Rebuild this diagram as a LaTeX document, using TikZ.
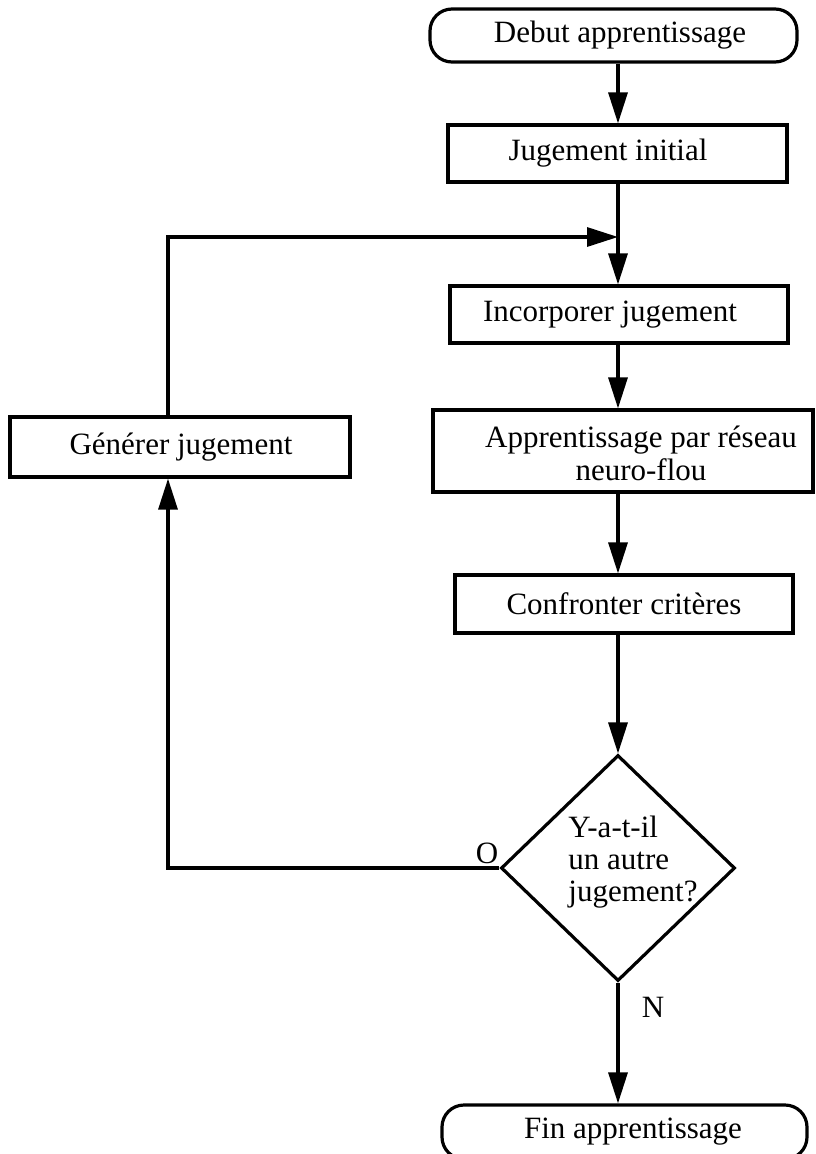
\documentclass[tikz,border=0pt]{standalone}
\usepackage{fontspec}
\setmainfont{Liberation Serif}
\usetikzlibrary{arrows.meta,shapes.geometric}
\begin{document}
\begin{tikzpicture}[x=1pt,y=-1pt,
  every node/.style={font=\fontsize{31}{33}\selectfont},
  line width=3.2pt,
  boxnode/.style={draw,rectangle,inner sep=0pt},
  termnode/.style={draw,rectangle,rounded corners=22pt,inner sep=0pt},
  decnode/.style={draw,diamond,inner sep=0pt},
  arr/.style={-{Triangle[length=31pt,width=19pt]}},
  txt/.style={inner sep=0pt}
]
\useasboundingbox (0,0) rectangle (815,1154);
\clip (0,0) rectangle (815,1154);
\coordinate (sp) at (618,0);
\coordinate (lx) at (168,0);
\coordinate (jn) at (618,237);

\node[termnode,minimum width=367pt,minimum height=53pt] (deb) at (613.5,35.5) {};
\node[txt] (debt) at (620,35.5) {Debut apprentissage};

\node[boxnode,minimum width=339pt,minimum height=57pt] (jug) at (617.5,153.5) {};
\node[txt] (jugt) at (608,153.5) {Jugement initial};

\node[boxnode,minimum width=338pt,minimum height=57pt] (inc) at (619,314.5) {};
\node[txt] (inct) at (610,314.5) {Incorporer jugement};

\node[boxnode,minimum width=380pt,minimum height=82pt] (apr) at (623,451) {};
\node[txt,align=center] (aprt) at (641,453) {Apprentissage par réseau\\neuro-flou};

\node[boxnode,minimum width=338pt,minimum height=58pt] (con) at (624,604) {};
\node[txt] (cont) at (624,604) {Confronter critères};

\node[decnode,minimum width=234pt,minimum height=226pt] (dia) at (618,868) {};
\node[txt,align=left,font=\fontsize{31}{32}\selectfont] (diat) at (633,862) {Y-a-t-il\\un autre\\jugement?};

\node[boxnode,minimum width=340pt,minimum height=60pt] (gen) at (180,447) {};
\node[txt] (gent) at (181,447) {Générer jugement};

\node[termnode,minimum width=365pt,minimum height=54pt] (fin) at (624.5,1132) {};
\node[txt] (fint) at (633,1132) {Fin apprentissage};

\node[txt] (lo) at (487,853) {O};
\node[txt] (ln) at (653,1007) {N};

\draw[arr] (deb.south -| sp) -- (jug.north -| sp);
\draw (jug.south -| sp) -- (jn);
\draw[arr] (jn) -- (inc.north -| sp);
\draw[arr] (inc.south -| sp) -- (apr.north -| sp);
\draw[arr] (apr.south -| sp) -- (con.north -| sp);
\draw[arr] (con.south -| sp) -- (dia.north);
\draw[arr] (dia.west) -| (gen.south -| lx);
\draw[arr] (gen.north -| lx) |- (jn);
\draw[arr] (dia.south) -- (fin.north -| dia.south);
\end{tikzpicture}
\end{document}
